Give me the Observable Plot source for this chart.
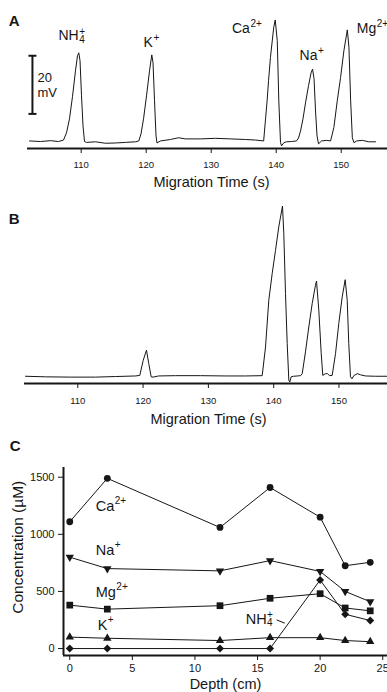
<!DOCTYPE html>
<html>
<head>
<meta charset="utf-8">
<script src="https://cdn.jsdelivr.net/npm/d3@7"></script>
<script src="https://cdn.jsdelivr.net/npm/@observablehq/plot@0.6"></script>
<style>
  body { margin: 0; background: #fff; }
  #chart { width: 387px; height: 692px; overflow: hidden; background: #fff; }
  #chart svg { display: block; }
</style>
</head>
<body>
<div id="chart"></div>
<script>
// ---------- Panel A: electropherogram of standards ----------
const timeA = [102.05,103.74,105.28,106.51,107.28,107.74,108.20,108.66,109.12,109.43,109.63,109.82,110.05,110.28,110.51,110.82,112.2,113.74,115.28,116.82,118.36,118.86,119.2,119.59,120.05,120.51,120.86,121.05,121.28,121.51,121.66,122.2,123.74,124.97,126.05,128.36,130.66,132.97,135.28,136.82,138.07,138.36,138.6,138.82,139.11,139.62,139.85,140.16,140.4,140.66,140.82,141.17,141.59,142.36,143.12,143.43,143.74,144.12,144.51,144.97,145.36,145.59,145.82,146.05,146.28,146.51,146.97,147.74,148.36,148.87,149.39,149.9,150.41,150.94,151.19,151.45,151.71,151.96,152.36,153.28,154.2,155.28];
const signalA = [0,-0.2,0.1,-0.2,0.3,2.8,7.6,15.2,24.1,29.3,30.3,27.6,15.5,5.2,-0.2,-0.5,-0.3,-0.8,-0.7,-0.5,-0.3,0,2.4,7.6,15.5,24.1,29.6,26.9,13.8,1.7,-0.7,0,0.5,1.1,0.7,0.7,0.9,0.7,0.5,0.3,0,7.6,13.8,20.7,28.7,39.1,41.6,34.5,13.8,-0.6,-1.7,-0.6,-0.3,-0.2,0,1.0,3.4,7.6,13.1,19.0,23.4,24.7,21.4,10.3,1.7,-1.0,0,0.2,0,4.6,13.8,21.8,31.0,38.2,32.2,13.8,1.1,-0.6,0,0.2,-0.3,-0.3];

// ---------- Panel B: electropherogram of a sample ----------
const timeB = [101.99,105.06,108.88,112.71,115.78,118.84,119.5,120.02,120.52,120.87,121.24,121.52,122.36,124.96,128.79,132.62,135.68,138.24,138.75,139.25,139.77,140.28,140.78,141.35,141.55,141.81,142.07,142.32,142.47,142.68,143.03,143.65,144.11,144.37,144.87,145.38,145.9,146.4,146.56,146.91,147.28,147.52,147.94,148.24,148.55,148.96,149.47,149.97,150.49,150.95,151.26,151.5,151.76,151.99,152.27,152.79,153.29,154.06,155.59,157.43];
const signalB = [0,-0.2,-0.3,-0.3,-0.1,0.1,0.3,5.5,9.0,4.4,-0.2,-0.3,0.1,0.2,0.2,0.1,0.1,0.2,10.1,26.2,35.4,43.4,51.5,58.7,49.2,28.5,11.3,-1.4,-2.0,-0.2,0,0.1,0.2,0.9,8.4,17.0,25.1,31.4,32.8,22.8,7.8,0.3,0.9,0.9,0.2,0.3,7.8,18.2,27.3,33.3,26.2,11.3,-0.2,-0.9,0.2,0.9,0.5,0.1,0,0];

const timeTicks = [110, 120, 130, 140, 150];

// scale bar of panel A (mV)
const scaleBarA = [{t: 102.5, low: 9.3, high: 29.3, label: "20\nmV"}];

// peak labels of panel A (seconds, mV at text baseline)
const ionLabelsA = [
  {base: "NH", sub: "4", sup: "+", x: 106.5, y: 34.6},
  {base: "K", sub: "", sup: "+", x: 119.6, y: 32.3},
  {base: "Ca", sub: "", sup: "2+", x: 133.2, y: 37.2},
  {base: "Na", sub: "", sup: "+", x: 143.6, y: 27.7},
  {base: "Mg", sub: "", sup: "2+", x: 152.4, y: 37.0}
];

// ---------- Panel C: concentration profiles ----------
const depth = [0, 3, 12, 16, 20, 22, 24];
const ca  = [1110, 1490, 1060, 1410, 1150, 725, 755];
const na  = [800, 700, 680, 770, 675, 500, 410];
const mg  = [380, 345, 375, 440, 480, 355, 330];
const k   = [100, 90, 70, 95, 95, 70, 60];
const nh4 = [0, 0, 0, 0, 600, 300, 245];
const depthTicks = [0, 5, 10, 15, 20, 25];
const concTicks = [0, 500, 1000, 1500];

const ionLabelsC = [
  {base: "Ca", sub: "", sup: "2+", x: 2.07, y: 1208},
  {base: "Na", sub: "", sup: "+", x: 2.07, y: 823},
  {base: "Mg", sub: "", sup: "2+", x: 2.07, y: 455},
  {base: "K", sub: "", sup: "+", x: 2.23, y: 158},
  {base: "NH", sub: "4", sup: "+", x: 14.05, y: 216}
];
const leaderNH4 = [{x1: 16.52, y1: 251, x2: 17.18, y2: 222}];

// ---------- helpers ----------
const W = 387;
const ink = "#161616";
const FONT = '"Liberation Sans", Arial, Helvetica, sans-serif';
const canvas = document.createElement("canvas");
const cx = canvas.getContext("2d");
function measure(text, size) {
  cx.font = `${size}px "Liberation Sans", Arial, sans-serif`;
  return cx.measureText(text).width;
}
function styleFor(size) {
  return {fontFamily: FONT, fontSize: size + "px", background: "white", color: ink, overflow: "visible"};
}
function ionMarks(labels, o) {
  const marks = [
    Plot.text(labels, {x: "x", y: "y", text: "base", textAnchor: "start", lineAnchor: "bottom", fontSize: o.size, fill: ink})
  ];
  for (const l of labels) {
    const dx = measure(l.base, o.size) + o.gap;
    if (l.sup) marks.push(Plot.text([l], {x: "x", y: "y", text: "sup", textAnchor: "start", lineAnchor: "bottom",
      fontSize: o.script, fill: ink, dx, dy: l.sub ? o.stackSupDy : o.supDy}));
    if (l.sub) marks.push(Plot.text([l], {x: "x", y: "y", text: "sub", textAnchor: "start", lineAnchor: "bottom",
      fontSize: o.script, fill: ink, dx, dy: o.subDy}));
  }
  return marks;
}
const capSymbol = {draw(ctx, size) { const r = Math.sqrt(size / Math.PI); ctx.moveTo(-r, 0); ctx.lineTo(r, 0); }};
const sqrt3 = Math.sqrt(3);
const triangleDown = {draw(ctx, size) {
  const y = -Math.sqrt(size / (sqrt3 * 3));
  ctx.moveTo(0, -y * 2); ctx.lineTo(-sqrt3 * y, y); ctx.lineTo(sqrt3 * y, y); ctx.closePath();
}};

const chart = document.getElementById("chart");

// ---------- Panel A ----------
const dataA = timeA.map((t, i) => ({t, v: signalA[i]}));
const yA = [-2.6, 48.3];
chart.append(Plot.plot({
  width: W, height: 200,
  marginLeft: 27, marginRight: 0, marginTop: 0, marginBottom: 52,
  style: styleFor(9.5),
  x: {domain: [101.74, 157.12], ticks: timeTicks, tickSize: 5, tickPadding: 8, label: null, tickFormat: d => String(d)},
  y: {domain: yA, axis: null},
  marks: [
    Plot.line(dataA, {x: "t", y: "v", stroke: ink, strokeWidth: 1}),
    Plot.ruleY([yA[0]], {stroke: ink, strokeWidth: 2}),
    Plot.ruleX(scaleBarA, {x: "t", y1: "low", y2: "high", stroke: ink, strokeWidth: 2}),
    Plot.dot(scaleBarA, {x: "t", y: "low", symbol: capSymbol, r: 4, stroke: ink, strokeWidth: 2, fill: "none"}),
    Plot.dot(scaleBarA, {x: "t", y: "high", symbol: capSymbol, r: 4, stroke: ink, strokeWidth: 2, fill: "none"}),
    Plot.text(scaleBarA, {x: "t", y: d => (d.low + d.high) / 2, text: "label", textAnchor: "start", dx: 5, fontSize: 13, lineHeight: 1.1, fill: ink}),
    ...ionMarks(ionLabelsA, {size: 14, script: 10, gap: 0.5, supDy: -6, stackSupDy: -5, subDy: 3}),
    Plot.text(["Migration Time (s)"], {frameAnchor: "bottom", dx: 4, dy: 38, lineAnchor: "bottom", fontSize: 14.5, fill: ink}),
    Plot.text(["A"], {frameAnchor: "top-left", dx: -18.7, dy: 25, lineAnchor: "bottom", textAnchor: "start", fontSize: 15, fontWeight: "bold", fill: ink})
  ]
}));

// ---------- Panel B ----------
const dataB = timeB.map((t, i) => ({t, v: signalB[i]}));
const yB = [-2.5, 60.6];
chart.append(Plot.plot({
  width: W, height: 230,
  marginLeft: 24, marginRight: 0, marginTop: 0, marginBottom: 47,
  style: styleFor(9.5),
  x: {domain: [101.84, 157.43], ticks: timeTicks, tickSize: 5, tickPadding: 9, label: null, tickFormat: d => String(d)},
  y: {domain: yB, axis: null},
  marks: [
    Plot.line(dataB, {x: "t", y: "v", stroke: ink, strokeWidth: 1}),
    Plot.ruleY([yB[0]], {stroke: ink, strokeWidth: 2}),
    Plot.text(["Migration Time (s)"], {frameAnchor: "bottom", dx: 2.5, dy: 40, lineAnchor: "bottom", fontSize: 14.5, fill: ink}),
    Plot.text(["B"], {frameAnchor: "top-left", dx: -15.7, dy: 23.3, lineAnchor: "bottom", textAnchor: "start", fontSize: 15, fontWeight: "bold", fill: ink})
  ]
}));

// ---------- Panel C ----------
const series = [
  {ion: "Ca", values: ca}, {ion: "Na", values: na}, {ion: "Mg", values: mg},
  {ion: "K", values: k}, {ion: "NH4", values: nh4}
];
const rows = series.flatMap(s => depth.map((d, i) => ({ion: s.ion, depth: d, conc: s.values[i]})));
const markerStyle = {
  Ca: {symbol: "circle", r: 3.4},
  Na: {symbol: triangleDown, r: 3.1},
  Mg: {symbol: "square", r: 3.8},
  K: {symbol: "triangle", r: 3.1},
  NH4: {symbol: "diamond2", r: 3.6}
};
const xC = [-0.5, 25.38], yC = [-61, 1585];
// y-axis title anchor, expressed on the panel's own scales (left of the axis, mid-height)
const yTitleC = [{text: "Concentration (µM)", x: -4.13, y: 887}];
chart.append(Plot.plot({
  width: W, height: 262,
  marginLeft: 63, marginRight: 0, marginTop: 37, marginBottom: 37,
  style: styleFor(11),
  x: {domain: xC, ticks: depthTicks, tickSize: 5, tickPadding: 4, label: null, tickFormat: d => String(d)},
  y: {domain: yC, ticks: concTicks, tickSize: 5, tickPadding: 4, label: null, tickFormat: d => String(d)},
  marks: [
    Plot.ruleX([xC[0]], {stroke: ink, strokeWidth: 2}),
    Plot.ruleY([yC[0]], {stroke: ink, strokeWidth: 2}),
    Plot.line(rows, {x: "depth", y: "conc", z: "ion", stroke: ink, strokeWidth: 1}),
    ...series.map(s => Plot.dot(rows.filter(r => r.ion === s.ion), {x: "depth", y: "conc",
      symbol: markerStyle[s.ion].symbol, r: markerStyle[s.ion].r, fill: ink, stroke: "none"})),
    Plot.link(leaderNH4, {x1: "x1", y1: "y1", x2: "x2", y2: "y2", stroke: ink, strokeWidth: 1}),
    ...ionMarks(ionLabelsC, {size: 14.5, script: 10, gap: 0.5, supDy: -7, stackSupDy: -6, subDy: 2}),
    Plot.text(["Depth (cm)"], {frameAnchor: "bottom", dy: 33, lineAnchor: "bottom", fontSize: 14.5, fill: ink}),
    Plot.text(yTitleC, {x: "x", y: "y", text: "text", rotate: -90, fontSize: 15.5, fill: ink}),
    Plot.text(["C"], {frameAnchor: "top-left", dx: -53.7, dy: -17, lineAnchor: "bottom", textAnchor: "start", fontSize: 15, fontWeight: "bold", fill: ink})
  ]
}));
</script>
</body>
</html>
